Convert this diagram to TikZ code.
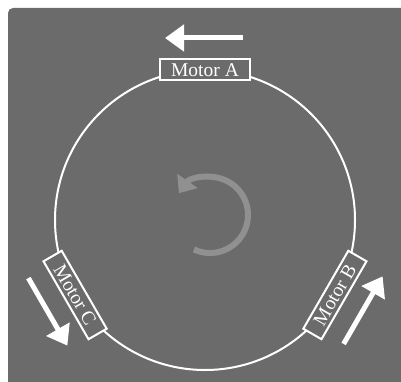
\documentclass[tikz,border=0pt]{standalone}
\usepackage{fontspec}
\setmainfont{Liberation Serif}
\usepackage{tikz}
\usetikzlibrary{positioning,calc,arrows.meta}
\definecolor{bggray}{HTML}{6B6B6B}
\definecolor{spingray}{HTML}{909090}
\tikzset{
  motorbox/.style={draw=white,line width=2pt,fill=bggray,text=white,
    minimum width=90pt,minimum height=21pt,inner sep=1pt,
    font=\fontsize{19.5}{20}\selectfont},
  pusharrow/.style={draw=white,line width=5pt,
    -{Triangle[length=19pt,width=26pt]}},
}

\begin{document}
\begin{tikzpicture}[x=1pt,y=1pt]
  \useasboundingbox (0,0) rectangle (401,381);
  % panel
  \fill[bggray,rounded corners=5pt] (8,-10) rectangle (411,373);
  \coordinate (c) at (205,161);
  \def\r{150}
  \def\ra{182}
  % track
  \draw[white,line width=2pt] (c) circle[radius=\r];
  % rotation sign in the middle
  \coordinate (s) at (210,166);
  \draw[spingray,line width=6pt,-{Triangle[length=15pt,width=24pt]}]
    ($(s)+(-115:38)$) arc[start angle=-115,end angle=145,radius=38];
  % motors with their push directions
  \foreach \ang/\rot/\lab/\nm in {90/0/A/ma,210/-60/C/mc,330/60/B/mb}{
    \node[motorbox,rotate=\rot] (\nm) at ($(c)+(\ang:\r)$) {Motor \lab};
    \coordinate (\nm-t) at ($(c)+(\ang:\ra)+(\ang-90:38)$);
    \coordinate (\nm-h) at ($(c)+(\ang:\ra)+(\ang+90:40)$);
    \draw[pusharrow] (\nm-t) -- (\nm-h);
  }
\end{tikzpicture}
\end{document}
